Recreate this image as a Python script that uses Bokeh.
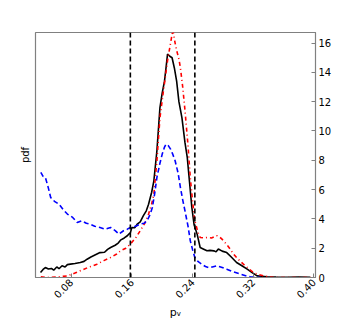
import math
from bokeh.plotting import figure
from bokeh.models import LinearAxis, FixedTicker, Span, Range1d
from bokeh.embed import file_html
from bokeh.resources import INLINE

# Data
black_x = [0.0396, 0.043, 0.046, 0.050, 0.054, 0.057, 0.061, 0.064, 0.068, 0.072, 0.075, 0.079, 0.085,
           0.092, 0.097, 0.101, 0.106, 0.112, 0.118, 0.124, 0.128, 0.132, 0.138, 0.142, 0.145, 0.150,
           0.154, 0.156, 0.158, 0.160, 0.164, 0.167, 0.171, 0.175, 0.179, 0.182, 0.186, 0.189, 0.193,
           0.197, 0.200, 0.203, 0.205, 0.207, 0.210, 0.213, 0.216, 0.219, 0.222, 0.226, 0.230, 0.233,
           0.236, 0.239, 0.242, 0.246, 0.250, 0.254, 0.259, 0.263, 0.268, 0.271, 0.274, 0.279, 0.285,
           0.291, 0.298, 0.305, 0.312, 0.318, 0.325, 0.331, 0.338, 0.350, 0.365, 0.380, 0.395]
black_y = [0.34, 0.55, 0.68, 0.58, 0.62, 0.50, 0.72, 0.60, 0.80, 0.72, 0.88, 0.91, 0.95,
           1.02, 1.10, 1.25, 1.40, 1.55, 1.70, 1.72, 1.92, 2.05, 2.20, 2.35, 2.55, 2.70,
           2.85, 2.96, 3.05, 3.41, 3.40, 3.64, 3.80, 4.20, 4.55, 5.00, 5.80, 6.60, 8.65,
           11.6, 12.6, 13.4, 14.3, 15.25, 15.1, 15.0, 14.3, 13.4, 12.0, 10.9, 9.2, 8.2,
           6.5, 4.8, 3.6, 2.96, 2.05, 1.95, 1.82, 1.85, 1.82, 1.75, 1.94, 1.80, 1.70,
           1.40, 1.02, 0.80, 0.57, 0.35, 0.11, 0.08, 0.05, 0.03, 0.02, 0.03, 0.02]

red_x = [0.040, 0.048, 0.060, 0.075, 0.085, 0.092, 0.103, 0.114, 0.123, 0.132, 0.140, 0.145, 0.152,
         0.158, 0.165, 0.171, 0.177, 0.182, 0.186, 0.189, 0.193, 0.197, 0.201, 0.204, 0.207, 0.210,
         0.214, 0.217, 0.219, 0.222, 0.224, 0.227, 0.230, 0.234, 0.237, 0.240, 0.243, 0.247, 0.250,
         0.255, 0.259, 0.265, 0.272, 0.277, 0.281, 0.288, 0.294, 0.300, 0.307, 0.314, 0.320, 0.327,
         0.334, 0.340, 0.347, 0.360, 0.380, 0.398]
red_y = [0.05, 0.00, 0.03, 0.11, 0.30, 0.46, 0.70, 0.91, 1.15, 1.37, 1.60, 1.82, 2.00,
         2.28, 2.70, 3.19, 3.70, 4.33, 5.00, 5.70, 7.97, 10.9, 12.5, 13.65, 14.8, 15.7,
         16.9, 16.0, 15.5, 14.9, 14.3, 13.0, 11.4, 9.0, 6.8, 5.2, 3.87, 3.10, 2.73,
         2.70, 2.73, 2.70, 2.85, 2.70, 2.50, 2.05, 1.60, 1.25, 0.91, 0.60, 0.34, 0.20,
         0.11, 0.05, 0.00, 0.00, 0.00, 0.00]

blue_x = [0.040, 0.043, 0.046, 0.050, 0.053, 0.058, 0.064, 0.070, 0.075, 0.082, 0.088, 0.094, 0.100,
          0.105, 0.111, 0.118, 0.125, 0.132, 0.138, 0.143, 0.149, 0.154, 0.158, 0.165, 0.171,
          0.176, 0.180, 0.184, 0.187, 0.190, 0.193, 0.197, 0.200, 0.203, 0.205, 0.208, 0.211,
          0.214, 0.217, 0.221, 0.224, 0.227, 0.230, 0.234, 0.237, 0.240, 0.243, 0.247, 0.252,
          0.257, 0.261, 0.266, 0.272, 0.278, 0.285, 0.293, 0.303, 0.310, 0.316, 0.323, 0.330]
blue_y = [7.17, 6.90, 6.83, 6.10, 5.46, 5.20, 5.00, 4.60, 4.33, 4.10, 3.75, 3.87, 3.70,
          3.64, 3.50, 3.41, 3.30, 3.41, 3.20, 2.96, 3.19, 3.30, 3.41, 3.50, 3.64,
          3.70, 3.87, 4.30, 4.78, 5.70, 6.83, 7.80, 8.42, 8.90, 9.10, 9.00, 8.76,
          8.40, 7.97, 7.10, 6.14, 5.30, 4.55, 3.50, 2.50, 1.90, 1.37, 1.10, 0.91,
          0.75, 0.68, 0.72, 0.80, 0.70, 0.57, 0.40, 0.23, 0.12, 0.05, 0.02, 0.00]

vlines = [0.158, 0.243]
x_ticks = [0.08, 0.16, 0.24, 0.32, 0.40]
y_ticks = [0, 2, 4, 6, 8, 10, 12, 14, 16]

FONT = "DejaVu Sans"

p = figure(frame_width=280, frame_height=245, output_backend="svg", toolbar_location=None,
           x_range=Range1d(0.033, 0.402), y_range=Range1d(0, 16.72),
           y_axis_location="right", min_border_left=35, min_border_right=20,
           min_border_top=32, min_border_bottom=30)
p.background_fill_color = "white"
p.border_fill_color = "white"
p.grid.visible = False
p.outline_line_color = "#808080"
p.outline_line_width = 1.2

p.line(black_x, black_y, line_color="black", line_width=1.6)
p.line(red_x, red_y, line_color="red", line_width=1.6, line_dash="4 3 1 3")
p.line(blue_x, blue_y, line_color="blue", line_width=1.6, line_dash="5 3")

for v in vlines:
    p.add_layout(Span(location=v, dimension="height", line_color="black",
                      line_width=1.6, line_dash="5 3"))

xa = p.xaxis[0]
xa.ticker = FixedTicker(ticks=x_ticks)
xa.major_label_overrides = {t: f"{t:.2f}" for t in x_ticks}
xa.major_label_orientation = math.pi / 4
xa.major_tick_in = 4
xa.major_tick_out = 0
xa.minor_tick_line_color = None
xa.axis_line_color = "#808080"
xa.major_tick_line_color = "#808080"
xa.major_label_text_font = FONT
xa.major_label_text_font_size = "10px"
xa.major_label_text_color = "black"
xa.major_label_standoff = 3
xa.axis_label = "pᵥ"
xa.axis_label_text_font = FONT
xa.axis_label_text_font_size = "11px"
xa.axis_label_text_font_style = "normal"
xa.axis_label_text_color = "black"
xa.axis_label_standoff = 1

ya = p.yaxis[0]
ya.ticker = FixedTicker(ticks=y_ticks)
ya.major_tick_in = 4
ya.major_tick_out = 0
ya.minor_tick_line_color = None
ya.axis_line_color = "#808080"
ya.major_tick_line_color = "#808080"
ya.major_label_text_font = FONT
ya.major_label_text_font_size = "10px"
ya.major_label_text_color = "black"
ya.major_label_standoff = 3

la = LinearAxis(ticker=FixedTicker(ticks=[]), axis_label="pdf")
la.axis_line_color = None
la.major_tick_line_color = None
la.minor_tick_line_color = None
la.axis_label_text_font = FONT
la.axis_label_text_font_size = "10px"
la.axis_label_text_font_style = "normal"
la.axis_label_text_color = "black"
la.axis_label_standoff = 5
p.add_layout(la, "left")

open("out.html", "w").write(file_html(p, INLINE))
